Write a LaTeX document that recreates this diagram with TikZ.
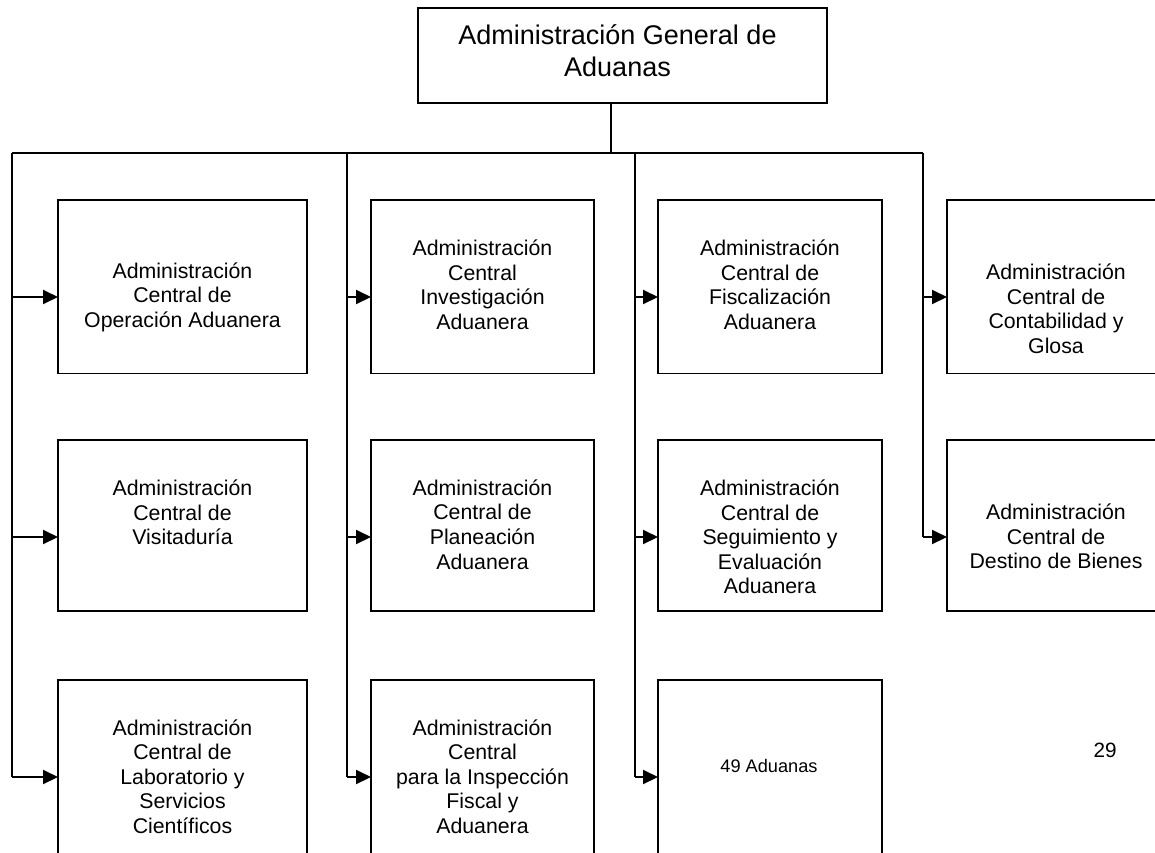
\documentclass[tikz,border=0pt]{standalone}
\usepackage{fontspec}
\setmainfont{Liberation Sans}
\usetikzlibrary{arrows.meta}
\begin{document}
\begin{tikzpicture}[x=1pt,y=-1pt,
  ln/.style={line width=1.9pt, draw=black},
  orgbox/.style={draw=black, line width=1.9pt, rectangle, inner sep=0pt, outer sep=0pt, anchor=north west},
  txt/.style={inner sep=0pt, align=center, font=\fontsize{21.3}{24.5}\selectfont},
  toptxt/.style={inner sep=0pt, align=center, font=\fontsize{27}{32}\selectfont},
  arr/.style={ln, -{Triangle[length=15pt,width=14pt]}}
]
\useasboundingbox (0,0) rectangle (1155,852);
\clip (0,0) rectangle (1155,852);

% top box
\node[orgbox, minimum width=409pt, minimum height=95pt] (top) at (418,8) {};
\node[toptxt] (ttop) at (617.5,51) {Administración General de\\Aduanas};

% boxes
\node[orgbox, minimum width=249pt, minimum height=173.5pt] (b11) at (58,200) {};
\node[orgbox, minimum width=223pt, minimum height=173.5pt] (b21) at (371,200) {};
\node[orgbox, minimum width=224pt, minimum height=173.5pt] (b31) at (658,200) {};
\node[orgbox, minimum width=218pt, minimum height=173.5pt] (b41) at (947,200) {};
\node[orgbox, minimum width=249pt, minimum height=171pt] (b12) at (58,440) {};
\node[orgbox, minimum width=223pt, minimum height=171pt] (b22) at (371,440) {};
\node[orgbox, minimum width=224pt, minimum height=171pt] (b32) at (658,440) {};
\node[orgbox, minimum width=218pt, minimum height=171pt] (b42) at (947,440) {};
\node[orgbox, minimum width=249pt, minimum height=185pt] (b13) at (58,680) {};
\node[orgbox, minimum width=223pt, minimum height=185pt] (b23) at (371,680) {};
\node[orgbox, minimum width=224pt, minimum height=185pt] (b33) at (658,680) {};

% texts
\node[txt] (t11) at (182.5,297) {Administración\\Central de\\Operación Aduanera};
\node[txt] (t21) at (482.5,285) {Administración\\Central\\Investigación\\Aduanera};
\node[txt] (t31) at (770,285) {Administración\\Central de\\Fiscalización\\Aduanera};
\node[txt] (t41) at (1056,309) {Administración\\Central de\\Contabilidad y\\Glosa};
\node[txt] (t12) at (182.5,512.5) {Administración\\Central de\\Visitaduría};
\node[txt] (t22) at (482.5,524.5) {Administración\\Central de\\Planeación\\Aduanera};
\node[txt] (t32) at (770,537) {Administración\\Central de\\Seguimiento y\\Evaluación\\Aduanera};
\node[txt] (t42) at (1056,536.5) {Administración\\Central de\\Destino de Bienes};
\node[txt] (t13) at (182.5,776.5) {Administración\\Central de\\Laboratorio y\\Servicios\\Científicos};
\node[txt] (t23) at (482.5,776.5) {Administración\\Central\\para la Inspección\\Fiscal y\\Aduanera};
\node[inner sep=0pt, font=\fontsize{18.2}{21}\selectfont] (t33) at (769,766) {49 Aduanas};
\node[inner sep=0pt, font=\fontsize{20.7}{24}\selectfont] (page) at (1105,750) {29};

% bus coordinates
\coordinate (tj) at (611,153);
\coordinate (v1) at (12,153);
\coordinate (v2) at (347,153);
\coordinate (v3) at (635,153);
\coordinate (v4) at (923,153);
\coordinate (a1) at (0,297);
\coordinate (a2) at (0,537);
\coordinate (a3) at (0,777);

\draw[ln] (top.south -| tj) -- (tj);
\draw[ln] (v1) -- (v4);
\draw[ln] (v1) -- (v1 |- a3);
\draw[ln] (v2) -- (v2 |- a3);
\draw[ln] (v3) -- (v3 |- a3);
\draw[ln] (v4) -- (v4 |- a2);

\draw[arr] (v1 |- a1) -- (b11.west |- a1);
\draw[arr] (v1 |- a2) -- (b12.west |- a2);
\draw[arr] (v1 |- a3) -- (b13.west |- a3);
\draw[arr] (v2 |- a1) -- (b21.west |- a1);
\draw[arr] (v2 |- a2) -- (b22.west |- a2);
\draw[arr] (v2 |- a3) -- (b23.west |- a3);
\draw[arr] (v3 |- a1) -- (b31.west |- a1);
\draw[arr] (v3 |- a2) -- (b32.west |- a2);
\draw[arr] (v3 |- a3) -- (b33.west |- a3);
\draw[arr] (v4 |- a1) -- (b41.west |- a1);
\draw[arr] (v4 |- a2) -- (b42.west |- a2);
\end{tikzpicture}
\end{document}
